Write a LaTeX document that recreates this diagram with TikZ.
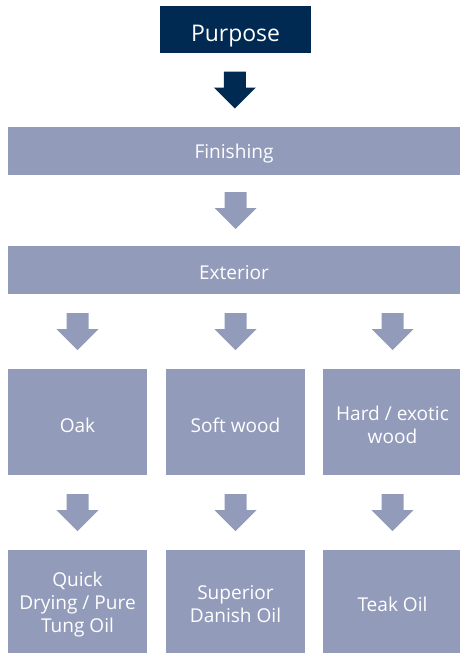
\documentclass[tikz,border=0pt]{standalone}
\usepackage{fontspec}
\setmainfont{Open Sans}
\usetikzlibrary{calc}

\definecolor{navy}{HTML}{002A52}
\definecolor{slate}{HTML}{939BBB}

\tikzset{
	basebox/.style={fill=slate, inner sep=0pt},
	boxtext/.style={text=white, align=center, inner sep=0pt, yshift=-2.25pt, font=\fontsize{14.3}{17.25}\selectfont},
	toptext/.style={boxtext, yshift=-3pt, font=\fontsize{17.2}{20}\selectfont},
	topbox/.style={basebox, fill=navy, minimum width=113.25pt, minimum height=35.25pt},
	barbox/.style={basebox, minimum width=339pt, minimum height=36pt},
	woodbox/.style={basebox, minimum width=104.25pt, minimum height=79.5pt},
	oilbox/.style={basebox, minimum width=104.25pt, minimum height=77.25pt},
	% block arrow pointing down, centred on its position
	darrow/.pic={
		\fill[#1] (-11,-18.5) -- (11,-18.5) -- (11,-2.5) -- (21,-2.5)
			-- (0,18.5) -- (-21,-2.5) -- (-11,-2.5) -- cycle;
	}
}

\begin{document}
\begin{tikzpicture}[x=0.75pt,y=-0.75pt]

	\useasboundingbox (0,0) rectangle (460,653);

	% boxes
	\node[topbox, label={[toptext]center:Purpose}] (purpose) at (235.5,29.5) {};
	\node[barbox, label={[boxtext]center:Finishing}] (finishing) at (234,151) {};
	\node[barbox, label={[boxtext]center:Exterior}] (exterior) at (234,270) {};

	\node[woodbox, label={[boxtext]center:Oak}] (oak) at (77.5,422) {};
	\node[woodbox, label={[boxtext]center:Soft wood}] (soft) at (235.5,422) {};
	\node[woodbox, label={[boxtext]center:Hard / exotic\\wood}] (hard) at (392.5,422) {};

	\node[oilbox, label={[boxtext]center:Quick\\Drying / Pure\\Tung Oil}] (tung) at (77.5,601.5) {};
	\node[oilbox, label={[boxtext]center:Superior\\Danish Oil}] (danish) at (235.5,601.5) {};
	\node[oilbox, label={[boxtext]center:Teak Oil}] (teak) at (392.5,601.5) {};

	% arrows
	\pic at ($(purpose.south)!0.5!(finishing.north)$) {darrow=navy};
	\pic at ($(finishing.south -| soft)!0.5!(exterior.north -| soft)$) {darrow=slate};

	\foreach \n/\m in {oak/tung, soft/danish, hard/teak} {
		\pic at ($(exterior.south -| \n)!0.5!(\n.north)$) {darrow=slate};
		\pic at ($(\n.south)!0.5!(\m.north)$) {darrow=slate};
	}

\end{tikzpicture}
\end{document}
